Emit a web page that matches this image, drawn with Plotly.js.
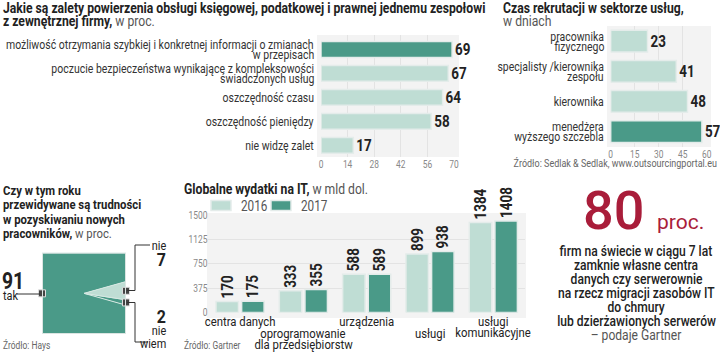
<!DOCTYPE html>
<html>
<head>
<meta charset="utf-8">
<script src="https://cdn.plot.ly/plotly-3.0.1.min.js"></script>
<style>html,body{margin:0;padding:0;background:#fff;}#chart{width:720px;height:359px;}</style>
</head>
<body>
<div id="chart"></div>
<script>
// ---------- DATA ----------
const advCategories = [
  'możliwość otrzymania szybkiej i konkretnej informacji o zmianach<br>w przepisach',
  'poczucie bezpieczeństwa wynikające z kompleksowości<br>świadczonych usług',
  'oszczędność czasu',
  'oszczędność pieniędzy',
  'nie widzę zalet'
];
const advValues = [69, 67, 64, 58, 17];
const advTicks = [0, 14, 28, 42, 56, 70];

const recCategories = [
  'pracownika<br>fizycznego',
  'specjalisty /kierownika<br>zespołu',
  'kierownika',
  'menedżera<br>wyższego szczebla'
];
const recValues = [23, 41, 48, 57];
const recTicks = [0, 15, 30, 45, 60];

const itCategories = [
  'centra danych',
  'oprogramowanie<br>dla przedsiębiorstw',
  'urządzenia',
  'usługi',
  'usługi<br>komunikacyjne'
];
const itYears = ['2016', '2017'];
const it2016 = [170, 333, 588, 899, 1384];
const it2017 = [175, 355, 589, 938, 1408];
const itTicks = [0, 375, 750, 1125, 1500];

const diffLabels = ['nie', 'nie wiem', 'tak'];
const diffValues = [7, 2, 91];

const gartnerLines = [
  'firm na świecie w ciągu 7 lat',
  'zamknie własne centra',
  'danych czy serwerownie',
  'na rzecz migracji zasobów IT',
  'do chmury',
  'lub dzierżawionych serwerów',
  '– podaje Gartner'
];

// ---------- STYLE ----------
const F = "Roboto,'Noto Sans',sans-serif";
const CONDENSE = 0.84;
const DARK = '#4a9a88';
const LIGHT = '#bfddd4';
const RED = '#a91d3a';
const TXT = '#222';
const BARLINE = '#e4ecea';
const W = 720, H = 359;
const X = px => px / W;
const Y = py => 1 - py / H;

const traces = [];

// Chart 1: advantages
const advMax = Math.max(...advValues);
traces.push({
  type: 'bar', orientation: 'h', xaxis: 'x', yaxis: 'y',
  y: advCategories, x: advValues, width: 0.66,
  marker: {color: advValues.map(v => v === advMax ? DARK : LIGHT), line: {color: BARLINE, width: 1.5}},
  text: advValues.map(String), textposition: 'outside', cliponaxis: false, constraintext: 'none',
  textfont: {family: F, size: 16, color: TXT, weight: 'bold'},
  hoverinfo: 'skip', showlegend: false
});

// Chart 2: recruitment
const recMax = Math.max(...recValues);
traces.push({
  type: 'bar', orientation: 'h', xaxis: 'x2', yaxis: 'y2',
  y: recCategories, x: recValues, width: 0.72,
  marker: {color: recValues.map(v => v === recMax ? DARK : LIGHT), line: {color: BARLINE, width: 1.5}},
  text: recValues.map(String), textposition: 'outside', cliponaxis: false, constraintext: 'none',
  textfont: {family: F, size: 16, color: TXT, weight: 'bold'},
  hoverinfo: 'skip', showlegend: false
});

// Chart 3: IT spending
const itX = itCategories.map((_, i) => i);
[it2016, it2017].forEach((vals, k) => {
  traces.push({
    type: 'bar', xaxis: 'x3', yaxis: 'y3', name: itYears[k],
    x: itX, y: vals, width: 0.355, offset: k === 0 ? -0.38 : 0.025,
    marker: {color: k === 0 ? LIGHT : DARK, line: {color: BARLINE, width: 1.5}},
    text: vals.map(String), textposition: 'outside', textangle: -90, cliponaxis: false, constraintext: 'none',
    textfont: {family: F, size: 16, color: TXT, weight: 'bold'},
    hoverinfo: 'skip', showlegend: true
  });
});

// Chart 4: square "pie"
function boundary(deg) {
  const a = deg * Math.PI / 180, c = Math.cos(a), s = Math.sin(a);
  const m = Math.max(Math.abs(c), Math.abs(s));
  return [c / m, s / m];
}
function slicePoly(a1, a2) {
  const pts = [[0, 0], boundary(a1)];
  for (let k = 5; k >= -5; k--) {
    const c = 45 + 90 * k;
    if (c < a1 && c > a2) pts.push(boundary(c));
  }
  pts.push(boundary(a2));
  pts.push([0, 0]);
  return pts;
}
const diffTotal = diffValues.reduce((a, b) => a + b, 0);
let angle = (diffValues[0] + diffValues[1]) / diffTotal * 180;
const diffColors = [LIGHT, DARK, DARK];
const markerPts = [];
const sliceTraces = [];
diffValues.forEach((v, i) => {
  const span = v / diffTotal * 360;
  const poly = slicePoly(angle, angle - span);
  markerPts.push(boundary(angle - span / 2));
  sliceTraces.push({
    type: 'scatter', mode: 'lines', xaxis: 'x4', yaxis: 'y4',
    x: poly.map(p => p[0]), y: poly.map(p => p[1]), fill: 'toself',
    fillcolor: diffColors[i],
    line: {color: i < 2 ? '#d6e8e2' : 'rgba(0,0,0,0)', width: i < 2 ? 1 : 0},
    hoverinfo: 'skip', showlegend: false, name: diffLabels[i]
  });
  angle -= span;
});
traces.push(sliceTraces[2], sliceTraces[1], sliceTraces[0]);
traces.push({
  type: 'scatter', mode: 'markers', xaxis: 'x4', yaxis: 'y4',
  x: markerPts.map(p => p[0]), y: markerPts.map(p => p[1]),
  marker: {symbol: 'square', size: 7, color: '#444', line: {color: '#ddd', width: 1}},
  cliponaxis: false, hoverinfo: 'skip', showlegend: false
});

// ---------- ANNOTATIONS ----------
function ann(text, px, py, o) {
  o = o || {};
  return Object.assign({
    text: text, xref: 'paper', yref: 'paper', x: X(px), y: Y(py),
    xanchor: 'left', yanchor: 'middle', showarrow: false,
    font: {family: F, size: 13, color: TXT}, align: 'left'
  }, o);
}
// one annotation per line so the leading can be as tight as in the print
function lineAnns(text, base, spacing, centred) {
  const parts = text.split('<br>');
  const n = parts.length;
  return parts.map((p, j) => Object.assign({}, base, {
    text: p,
    yshift: -(centred ? (j - (n - 1) / 2) : j) * spacing
  }));
}
const T = {family: F, size: 14.5, color: TXT};
const T4 = {family: F, size: 13.5, color: TXT};
const annotations = [
  ann('<b>Jakie są zalety powierzenia obsługi księgowej, podatkowej i prawnej jednemu zespołowi</b>', 1, 9, {font: T}),
  ann('<b>z zewnętrznej firmy,</b> <span style="color:#555">w proc.</span>', 1, 21, {font: T}),
  ann('<b>Czas rekrutacji w sektorze usług,</b>', 501, 9, {font: T}),
  ann('w dniach', 501, 21, {font: {family: F, size: 14.5, color: '#555'}}),
  ann('Źródło: Sedlak &amp; Sedlak, www.outsourcingportal.eu', 719, 163, {xanchor: 'right', align: 'right', font: {family: F, size: 10.7, color: '#666'}}),
  ann('<b>Czy w tym roku</b>', 1, 190, {font: T4}),
  ann('<b>przewidywane są trudności</b>', 1, 204.5, {font: T4}),
  ann('<b>w pozyskiwaniu nowych</b>', 1, 218.5, {font: T4}),
  ann('<b>pracowników,</b> <span style="color:#555">w proc.</span>', 1, 232.5, {font: T4}),
  ann('Źródło: Hays', 1, 345, {font: {family: F, size: 10, color: '#666'}}),
  ann('<b>' + diffValues[2] + '</b>', 0, 281, {font: {family: F, size: 23, color: TXT}}),
  ann(diffLabels[2], 1, 295, {font: {family: F, size: 13, color: TXT}}),
  ann(diffLabels[0], 168, 245, {xanchor: 'right', align: 'right', font: {family: F, size: 13, color: TXT}}),
  ann('<b>' + diffValues[0] + '</b>', 168, 259, {xanchor: 'right', align: 'right', font: {family: F, size: 19, color: TXT}}),
  ann('<b>' + diffValues[1] + '</b>', 168, 316, {xanchor: 'right', align: 'right', font: {family: F, size: 19, color: TXT}}),
  ann('<b>Globalne wydatki na IT,</b> <span style="color:#555">w mld dol.</span>', 182, 189, {font: T}),
  ann('Źródło: Gartner', 182, 345, {font: {family: F, size: 10, color: '#666'}}),
  ann('80', 613, 210, {xanchor: 'center', align: 'center', font: {family: F, size: 54, color: RED, weight: 500}}),
  ann('proc.', 680, 222, {xanchor: 'center', align: 'center', font: {family: F, size: 21, color: RED}})
];
// "nie wiem"
annotations.push(...lineAnns(diffLabels[1].replace(' ', '<br>'),
  ann('', 168, 330, {xanchor: 'right', align: 'right', font: {family: F, size: 13, color: TXT}}), 13, false));
// Gartner paragraph
gartnerLines.forEach((l, j) => {
  const last = j === gartnerLines.length - 1;
  annotations.push(ann(l, 636, 251 + j * 14.1, {xanchor: 'center', align: 'center',
    font: {family: F, size: 14.4, color: last ? '#555' : TXT, weight: last ? 'normal' : 500}}));
});
// category labels, chart 1
const catFont = {family: F, size: 12.5, color: '#333'};
advCategories.forEach(c => {
  annotations.push(...lineAnns(c, {xref: 'paper', yref: 'y', x: X(316), y: c, xanchor: 'right', yanchor: 'middle',
    align: 'right', showarrow: false, font: catFont}, 10.5, true));
});
// category labels, chart 2
recCategories.forEach(c => {
  annotations.push(...lineAnns(c, {xref: 'paper', yref: 'y2', x: X(606), y: c, xanchor: 'right', yanchor: 'middle',
    align: 'right', showarrow: false, font: catFont}, 10, true));
});
// category labels, IT chart (staggered)
itCategories.forEach((c, i) => {
  annotations.push(...lineAnns(c, {xref: 'x3', yref: 'paper', x: i, y: Y(i % 2 === 0 ? 320.5 : 332.5),
    xanchor: 'center', yanchor: 'middle', showarrow: false, align: 'center',
    font: {family: F, size: 13.5, color: TXT}}, 11.5, false));
});

// ---------- SHAPES ----------
const shapes = [
  {type: 'rect', xref: 'paper', yref: 'paper', x0: X(317), x1: X(459), y0: Y(157), y1: Y(35), fillcolor: '#f3f3f3', line: {width: 0}, layer: 'below'},
  {type: 'rect', xref: 'paper', yref: 'paper', x0: X(607), x1: X(711), y0: Y(147), y1: Y(26), fillcolor: '#f3f3f3', line: {width: 0}, layer: 'below'},
  {type: 'rect', xref: 'paper', yref: 'paper', x0: X(207), x1: X(526), y0: Y(318), y1: Y(213), fillcolor: '#f3f3f3', line: {width: 0}, layer: 'below'},
  {type: 'rect', xref: 'x4', yref: 'y4', x0: -1, x1: 1, y0: -1, y1: 1, fillcolor: 'rgba(0,0,0,0)', line: {color: '#dbe5e2', width: 2}, layer: 'above'},
  {type: 'line', xref: 'paper', yref: 'paper', x0: X(17), x1: X(40), y0: Y(294), y1: Y(294), line: {color: '#333', width: 1}},
  {type: 'path', xref: 'paper', yref: 'paper', path: `M${X(127)},${Y(290.5)} L${X(135)},${Y(290.5)} L${X(135)},${Y(245)} L${X(150)},${Y(245)}`, line: {color: '#333', width: 1}},
  {type: 'path', xref: 'paper', yref: 'paper', path: `M${X(127)},${Y(302.5)} L${X(135)},${Y(302.5)} L${X(135)},${Y(342)} L${X(148)},${Y(342)}`, line: {color: '#333', width: 1}}
];

// ---------- LAYOUT ----------
const tickFont = {family: F, size: 10, color: '#888'};
const layout = {
  width: W, height: H, autosize: false,
  margin: {l: 0, r: 0, t: 0, b: 0, pad: 0},
  paper_bgcolor: '#fff', plot_bgcolor: 'rgba(0,0,0,0)',
  font: {family: F, color: TXT},
  showlegend: true,
  legend: {orientation: 'h', x: X(201), y: Y(206), xanchor: 'left', yanchor: 'middle',
           font: {family: F, size: 14, color: '#555'}, bgcolor: 'rgba(0,0,0,0)', tracegroupgap: 0},
  xaxis: {domain: [X(321), X(454)], range: [0, 70], tickvals: advTicks, tickfont: tickFont,
          showgrid: true, gridcolor: '#e3e3e3', zeroline: false, showline: false, ticks: '', anchor: 'y', fixedrange: true},
  yaxis: {domain: [Y(157.25), Y(34.75)], autorange: 'reversed', showticklabels: false, ticks: '',
          showgrid: false, zeroline: false, showline: false, anchor: 'x', fixedrange: true},
  xaxis2: {domain: [X(610.7), X(706.7)], range: [0, 60], tickvals: recTicks, tickfont: tickFont,
           showgrid: true, gridcolor: '#e3e3e3', zeroline: false, showline: false, ticks: '', anchor: 'y2', fixedrange: true},
  yaxis2: {domain: [Y(146.7), Y(26)], autorange: 'reversed', showticklabels: false, ticks: '',
           showgrid: false, zeroline: false, showline: false, anchor: 'x2', fixedrange: true},
  xaxis3: {domain: [X(208.4), X(525)], range: [-0.5, 4.5], showticklabels: false, showgrid: false,
           zeroline: false, showline: false, ticks: '', anchor: 'y3', fixedrange: true},
  yaxis3: {domain: [Y(312.5), Y(215)], range: [0, 1500], tickvals: itTicks, tickfont: tickFont,
           showgrid: true, gridcolor: '#e3e3e3', zeroline: false, showline: false, ticks: '', anchor: 'x3', fixedrange: true},
  xaxis4: {domain: [X(42), X(126)], range: [-1, 1], visible: false, anchor: 'y4', fixedrange: true},
  yaxis4: {domain: [Y(334), Y(252.7)], range: [-1, 1], visible: false, anchor: 'x4', fixedrange: true},
  annotations: annotations,
  shapes: shapes
};

// narrow every label horizontally around its own anchor (condensed type look)
function condenseText(gd) {
  gd.querySelectorAll('svg text').forEach(t => {
    const s = t.textContent.trim();
    if (!s || s === '80' || s === 'proc.') return;
    const bb = t.getBBox();
    const anchor = getComputedStyle(t).textAnchor || t.getAttribute('text-anchor') || 'start';
    let px = anchor === 'end' ? bb.x + bb.width : anchor === 'middle' ? bb.x + bb.width / 2 : bb.x;
    if (t.classList.contains('bartext')) px = bb.x;
    const tr = t.getAttribute('transform') || '';
    t.setAttribute('transform', `${tr} translate(${px},0) scale(${CONDENSE},1) translate(${-px},0)`);
  });
  // wider, flatter legend swatches as in the print
  gd.querySelectorAll('.legend .legendpoints path').forEach(p => p.setAttribute('d', 'M10,5H-10V-5H10Z'));
  // tighter spacing between the two legend entries (text is narrower now)
  const items = gd.querySelectorAll('.legend .traces');
  if (items.length > 1) {
    const m = /translate\(\s*([-\d.]+)[ ,]+([-\d.]+)/.exec(items[0].getAttribute('transform') || '');
    if (m) {
      const x0 = parseFloat(m[1]), y0 = parseFloat(m[2]);
      items.forEach((it, i) => it.setAttribute('transform', `translate(${x0 + i * 60},${y0})`));
    }
  }
}

Plotly.newPlot('chart', traces, layout, {staticPlot: true, displayModeBar: false}).then(condenseText);
</script>
</body>
</html>
